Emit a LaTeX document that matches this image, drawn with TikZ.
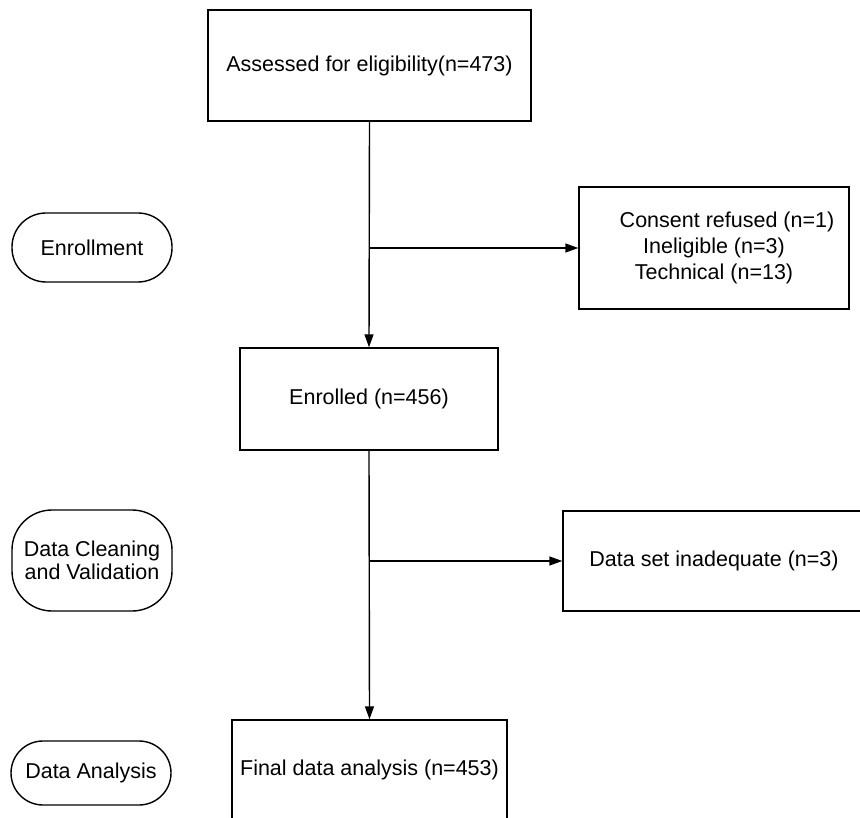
\documentclass[tikz,border=0pt]{standalone}
\usepackage{fontspec}
\setmainfont{Liberation Sans}
\usetikzlibrary{arrows.meta}
\begin{document}
\begin{tikzpicture}[x=1pt,y=-1pt,
  every node/.style={font=\fontsize{21.5}{26}\selectfont, align=center, inner sep=0pt},
  box/.style={draw, line width=1.4pt},
  pill/.style={draw, line width=1.4pt, rounded corners=32pt},
  conn/.style={line width=1.4pt},
  arr/.style={conn, -{Triangle[length=13pt,width=9pt]}}]
\useasboundingbox (0,0) rectangle (860,818);
\clip (0,0) rectangle (860,818);
\node[box, minimum width=323pt, minimum height=111pt] (assess) at (369.5,65.5) {Assessed for eligibility(n=473)};
\node[pill, rounded corners=34pt, minimum width=160pt, minimum height=69pt] (enrollment) at (92,247.5) {Enrollment};
\node[box, minimum width=270pt, minimum height=122pt] (excl) at (714,248) {\hspace*{26pt}Consent refused (n=1)\\Ineligible (n=3)\\Technical (n=13)};
\node[box, minimum width=258pt, minimum height=102pt] (enrolled) at (369,399) {Enrolled (n=456)};
\node[pill, rounded corners=40pt, minimum width=160pt, minimum height=101pt, font=\fontsize{21.5}{23.5}\selectfont] (clean) at (92,560.5) {Data Cleaning\\and Validation};
\node[box, minimum width=302pt, minimum height=100pt] (inadeq) at (714,561) {Data set inadequate (n=3)};
\node[box, minimum width=275pt, minimum height=100pt] (final) at (369.5,770) {Final data analysis (n=453)};
\node[pill, minimum width=160pt, minimum height=64pt] (analysis) at (91,773) {Data Analysis};
\coordinate (b1) at (assess.south |- excl.west);
\coordinate (b2) at (enrolled.south |- inadeq.west);
\draw[arr] (assess.south) -- (enrolled.north);
\draw[arr] (b1) -- (excl.west);
\draw[arr] (enrolled.south) -- (final.north);
\draw[arr] (b2) -- (inadeq.west);
\end{tikzpicture}
\end{document}
